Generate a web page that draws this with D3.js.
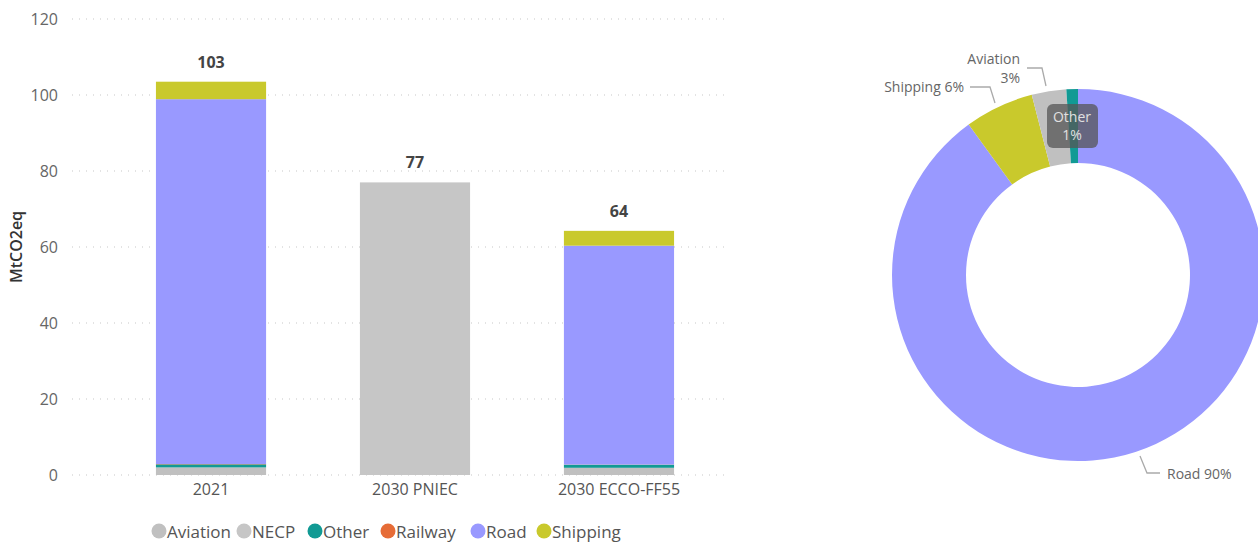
<!DOCTYPE html>
<html>
<head>
<meta charset="utf-8">
<script src="https://cdn.jsdelivr.net/npm/d3@7"></script>
<style>
  body { margin: 0; background: #fff; }
  text { font-family: "Open Sans", "Noto Sans", sans-serif; }
</style>
</head>
<body>
<svg id="chart" width="1258" height="542"></svg>
<script>
// data
var categories = ["2021", "2030 PNIEC", "2030 ECCO-FF55"];
var sectors = ["Aviation", "NECP", "Other", "Railway", "Road", "Shipping"];
var colors = ["#c0c0c0", "#c6c6c6", "#119a94", "#e66c37", "#9999ff", "#c9c92c"];
var aviation = [2.0, 0, 1.9];
var necp = [0, 77, 0];
var other = [0.8, 0, 0.8];
var railway = [0.1, 0, 0.05];
var road = [96.0, 0, 57.6];
var shipping = [4.6, 0, 3.9];
var totalLabels = ["103", "77", "64"];
var yTicks = [0, 20, 40, 60, 80, 100, 120];

// donut (2030 ECCO-FF55 split)
var donutNames = ["Road", "Shipping", "Aviation", "Other"];
var donutValues = [90, 6, 3, 1];
var donutColors = ["#9999ff", "#c9c92c", "#c0c0c0", "#119a94"];

var svg = d3.select("#chart");

var rows = categories.map(function(c, i) {
    return {cat: c, Aviation: aviation[i], NECP: necp[i], Other: other[i],
            Railway: railway[i], Road: road[i], Shipping: shipping[i]};
});
var stack = d3.stack().keys(sectors)(rows);

var x = d3.scaleBand().domain(categories).range([108, 722]).paddingInner(0.46).paddingOuter(0.235);
var y = d3.scaleLinear().domain([0, 120]).range([475, 19]);
var color = d3.scaleOrdinal().domain(sectors).range(colors);

// gridlines
svg.append("g").selectAll("line").data(yTicks).enter().append("line")
    .attr("x1", 72).attr("x2", 730)
    .attr("y1", function(d) { return y(d); }).attr("y2", function(d) { return y(d); })
    .attr("stroke", "#c8c8c8").attr("stroke-width", 1.2)
    .attr("stroke-dasharray", "1,6");

// y axis
var yAxis = svg.append("g").attr("transform", "translate(62,0)")
    .call(d3.axisLeft(y).tickValues(yTicks).tickSize(0).tickPadding(4));
yAxis.select(".domain").remove();
yAxis.selectAll("text").attr("font-size", 16).attr("fill", "#666")
    .style("font-family", "'Open Sans', sans-serif");

svg.append("text")
    .attr("transform", "translate(22,247) rotate(-90)")
    .attr("text-anchor", "middle")
    .attr("font-size", 16).attr("font-weight", 600).attr("fill", "#333")
    .text("MtCO2eq");

// bars
svg.append("g").selectAll("g").data(stack).enter().append("g")
    .attr("fill", function(d) { return color(d.key); })
    .selectAll("rect").data(function(d) { return d; }).enter().append("rect")
    .attr("x", function(d) { return x(d.data.cat); })
    .attr("width", x.bandwidth())
    .attr("y", function(d) { return y(d[1]); })
    .attr("height", function(d) { return y(d[0]) - y(d[1]); });

// totals
svg.append("g").selectAll("text").data(rows).enter().append("text")
    .attr("x", function(d) { return x(d.cat) + x.bandwidth() / 2; })
    .attr("y", function(d, i) { return y(stack[stack.length - 1][i][1]) - 14; })
    .attr("text-anchor", "middle")
    .attr("font-size", 16).attr("font-weight", 700).attr("fill", "#444")
    .text(function(d, i) { return totalLabels[i]; });

// x axis
var xAxis = svg.append("g").attr("transform", "translate(0,475)")
    .call(d3.axisBottom(x).tickSize(0).tickPadding(9));
xAxis.select(".domain").remove();
xAxis.selectAll("text").attr("font-size", 16).attr("fill", "#555")
    .style("font-family", "'Open Sans', sans-serif");

// legend
var legX = [159, 244, 315, 388, 478, 544];
var leg = svg.append("g").selectAll("g").data(sectors).enter().append("g")
    .attr("transform", function(d, i) { return "translate(" + legX[i] + ",531)"; });
leg.append("circle").attr("r", 7.5).attr("fill", function(d) { return color(d); });
leg.append("text").attr("x", 8).attr("y", 6.5)
    .attr("font-size", 17).attr("fill", "#555")
    .text(function(d) { return d; });

// donut
var cx = 1078, cy = 275, rOut = 186, rIn = 112;
var pie = d3.pie().sort(null).value(function(d) { return d; });
var arc = d3.arc().innerRadius(rIn).outerRadius(rOut);
var dg = svg.append("g").attr("transform", "translate(" + cx + "," + cy + ")");
dg.selectAll("path").data(pie(donutValues)).enter().append("path")
    .attr("d", arc)
    .attr("fill", function(d, i) { return donutColors[i]; });

// leader lines and labels (absolute)
var leaderColor = "#aaa";
var leaders = [
    [[1140, 456], [1147, 473], [1160, 473]],
    [[995, 103], [990, 87], [970, 87]],
    [[1046, 86], [1042, 68], [1027, 68]]
];
var line = d3.line();
svg.append("g").selectAll("path").data(leaders).enter().append("path")
    .attr("d", line).attr("fill", "none")
    .attr("stroke", leaderColor).attr("stroke-width", 1.3);

svg.append("text").attr("x", 1167).attr("y", 479)
    .attr("font-size", 14).attr("fill", "#666").text(donutNames[0] + " " + donutValues[0] + "%");
svg.append("text").attr("x", 964).attr("y", 92).attr("text-anchor", "end")
    .attr("font-size", 14).attr("fill", "#666").text(donutNames[1] + " " + donutValues[1] + "%");
svg.append("text").attr("x", 1020).attr("y", 64).attr("text-anchor", "end")
    .attr("font-size", 14).attr("fill", "#666").text(donutNames[2]);
svg.append("text").attr("x", 1020).attr("y", 83).attr("text-anchor", "end")
    .attr("font-size", 14).attr("fill", "#666").text(donutValues[2] + "%");

// other label box
svg.append("rect").attr("x", 1047).attr("y", 104).attr("width", 51).attr("height", 44)
    .attr("rx", 6).attr("fill", "#555").attr("fill-opacity", 0.75);
svg.append("text").attr("x", 1072).attr("y", 122).attr("text-anchor", "middle")
    .attr("font-size", 14).attr("fill", "#e0e0e0").text(donutNames[3]);
svg.append("text").attr("x", 1072).attr("y", 140).attr("text-anchor", "middle")
    .attr("font-size", 14).attr("fill", "#e0e0e0").text(donutValues[3] + "%");
</script>
</body>
</html>
